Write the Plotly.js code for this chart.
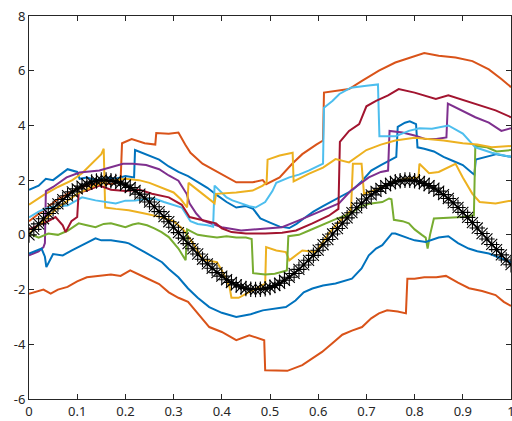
<!DOCTYPE html>
<html><head><meta charset="utf-8">
<script src="https://cdn.plot.ly/plotly-3.0.1.min.js"></script>
<style>html,body{margin:0;padding:0;background:#fff;overflow:hidden}#chart{width:512px;height:421px}</style>
</head><body><div id="chart"></div>
<script>
// tick labels
const xTickVals = [0,0.1,0.2,0.3,0.4,0.5,0.6,0.7,0.8,0.9,1];
const xTickText = ['0','0.1','0.2','0.3','0.4','0.5','0.6','0.7','0.8','0.9','1'];
const yTickVals = [-6,-4,-2,0,2,4,6,8];

// series (x, y pairs)
const blueUpX = [0,0.02,0.035,0.05,0.065,0.08,0.1,0.105,0.12,0.14,0.16,0.18,0.2,0.218,0.22,0.235,0.25,0.27,0.29,0.31,0.33,0.35,0.37,0.39,0.41,0.43,0.45,0.465,0.48,0.5,0.52,0.54,0.555,0.57,0.59,0.61,0.63,0.65,0.67,0.69,0.71,0.73,0.75,0.762,0.765,0.78,0.79,0.803,0.806,0.82,0.84,0.86,0.88,0.9,0.92,0.924,0.927,0.95,0.97,1.0];
const blueUpY = [1.65,1.8,2.05,2.0,2.2,2.4,2.3,2.05,2.1,2.0,2.1,2.05,2.15,2.1,3.1,3.0,2.9,2.75,2.5,2.3,2.15,1.95,1.72,1.45,1.2,1.0,1.05,0.95,0.6,0.45,0.3,0.25,0.4,0.6,0.85,1.05,1.25,1.45,1.62,1.95,2.35,2.55,2.72,2.85,3.95,4.1,4.15,4.05,3.2,3.15,3.05,2.85,2.7,2.55,2.25,2.2,2.75,2.85,2.95,2.85];

const orangeUpX = [0,0.03,0.06,0.09,0.12,0.15,0.17,0.19,0.193,0.213,0.24,0.262,0.264,0.29,0.31,0.324,0.335,0.36,0.395,0.43,0.464,0.485,0.492,0.52,0.546,0.567,0.596,0.61,0.612,0.636,0.664,0.69,0.726,0.76,0.788,0.82,0.85,0.885,0.92,0.954,0.98,1.0];
const orangeUpY = [0.5,0.9,1.3,1.6,1.8,1.9,1.85,1.95,3.35,3.5,3.35,3.3,3.72,3.7,3.74,3.3,3.0,2.6,2.25,1.92,1.92,2.0,1.85,2.1,2.6,2.95,3.3,3.45,5.2,5.27,5.33,5.62,6.0,6.3,6.45,6.65,6.55,6.48,6.35,6.05,5.7,5.4];

const yellow1X = [0,0.03,0.06,0.09,0.11,0.13,0.15,0.155,0.158,0.18,0.207,0.24,0.276,0.3,0.32,0.34,0.36,0.39,0.4,0.416,0.42,0.435,0.457,0.485,0.49,0.492,0.513,0.533,0.54,0.567,0.595,0.622,0.645,0.668,0.672,0.69,0.695,0.72,0.75,0.78,0.808,0.81,0.83,0.85,0.885,0.9,0.92,0.935,0.968,1.0];
const yellow1Y = [1.1,1.45,1.75,2.0,2.25,2.6,2.95,3.15,1.0,0.95,0.9,0.78,0.64,0.5,0.2,-0.3,-0.9,-1.0,-1.3,-1.9,-2.3,-2.3,-2.1,-1.85,-1.78,-0.45,-0.57,-0.63,-0.93,-0.57,-0.63,0.05,0.5,0.9,2.6,2.6,1.5,1.65,1.9,2.05,2.1,2.6,2.25,2.3,2.6,2.1,1.5,1.2,1.15,1.25];

const purpleX = [0,0.02,0.03,0.033,0.035,0.05,0.078,0.105,0.146,0.167,0.195,0.215,0.243,0.27,0.29,0.31,0.327,0.333,0.347,0.36,0.4,0.44,0.49,0.525,0.56,0.61,0.643,0.668,0.705,0.73,0.745,0.748,0.775,0.8,0.823,0.845,0.866,0.869,0.892,0.926,0.954,0.98,1.0];
const purpleY = [-0.75,-0.6,-0.45,-0.3,1.6,1.75,2.1,2.28,2.35,2.45,2.6,2.6,2.55,2.4,2.17,1.98,1.5,1.15,0.78,0.53,0.28,0.16,0.24,0.28,0.53,0.9,1.15,1.62,2.1,2.3,2.35,3.8,3.74,3.63,3.5,3.5,3.56,4.8,4.6,4.3,4.1,3.8,3.9];

const greenX = [0,0.02,0.04,0.06,0.08,0.103,0.12,0.138,0.155,0.17,0.185,0.2,0.215,0.227,0.245,0.26,0.275,0.29,0.31,0.325,0.328,0.35,0.37,0.39,0.41,0.43,0.45,0.462,0.465,0.49,0.51,0.535,0.538,0.56,0.58,0.6,0.62,0.64,0.664,0.69,0.71,0.733,0.747,0.752,0.757,0.775,0.788,0.8,0.815,0.823,0.827,0.832,0.84,0.87,0.9,0.923,0.926,0.95,0.97,1.0];
const greenY = [0.05,-0.1,0.05,0.0,0.15,0.42,0.35,0.28,0.4,0.42,0.35,0.28,0.38,0.42,0.35,0.24,0.1,-0.08,-0.5,-0.93,0.2,0.0,-0.05,-0.1,-0.05,-0.1,-0.1,-0.15,-1.4,-1.45,-1.42,-1.3,-0.05,0.0,0.15,0.3,0.45,0.6,0.75,1.05,1.15,1.2,1.33,1.3,0.55,0.5,0.42,0.2,0.0,-0.1,-0.5,0.0,0.6,0.62,0.65,0.72,3.25,3.2,3.05,3.1];

const lightBlueX = [0,0.02,0.04,0.06,0.08,0.11,0.138,0.16,0.18,0.2,0.22,0.24,0.26,0.28,0.3,0.317,0.335,0.35,0.37,0.382,0.385,0.395,0.41,0.422,0.44,0.457,0.47,0.49,0.505,0.513,0.54,0.56,0.58,0.61,0.612,0.63,0.644,0.668,0.7,0.72,0.724,0.727,0.76,0.788,0.81,0.836,0.87,0.9,0.926,0.96,1.0];
const lightBlueY = [0.64,0.85,1.0,1.05,1.07,1.37,1.26,1.2,1.15,1.25,1.26,1.3,1.33,1.2,1.1,1.0,0.5,0.4,0.35,0.3,1.8,1.62,1.37,1.26,1.15,1.05,1.0,1.2,1.6,1.9,2.1,2.2,2.35,2.6,4.65,4.9,5.15,5.38,5.45,5.5,5.5,3.6,3.6,3.8,3.9,3.88,4.0,3.7,3.2,3.0,2.85];

const darkRedX = [0,0.02,0.04,0.055,0.07,0.076,0.088,0.1,0.103,0.12,0.146,0.17,0.2,0.23,0.255,0.29,0.317,0.333,0.36,0.388,0.4,0.42,0.45,0.49,0.525,0.554,0.588,0.622,0.642,0.645,0.664,0.685,0.7,0.72,0.745,0.767,0.8,0.844,0.87,0.905,0.94,0.968,1.0];
const darkRedY = [0.2,0.35,0.5,0.65,0.35,0.1,0.5,0.65,1.55,1.62,1.8,1.65,1.6,1.65,1.5,1.37,1.1,0.65,0.53,0.42,0.24,0.1,0.05,0.05,0.08,0.16,0.42,0.7,0.95,3.4,3.8,4.05,4.7,4.9,5.1,5.33,5.2,4.97,5.1,4.9,4.7,4.55,4.3];

const blueLowX = [0,0.026,0.033,0.036,0.05,0.07,0.089,0.11,0.138,0.15,0.17,0.2,0.207,0.24,0.26,0.276,0.29,0.31,0.33,0.35,0.374,0.4,0.43,0.46,0.485,0.51,0.533,0.553,0.57,0.588,0.61,0.636,0.67,0.69,0.705,0.72,0.733,0.753,0.76,0.788,0.8,0.823,0.85,0.87,0.89,0.912,0.93,0.954,0.98,1.0];
const blueLowY = [-0.68,-0.5,-0.8,-1.18,-0.7,-0.75,-0.57,-0.38,-0.13,-0.2,-0.2,-0.28,-0.31,-0.63,-0.85,-1.0,-1.25,-1.55,-1.96,-2.3,-2.64,-2.85,-3.0,-2.9,-2.76,-2.7,-2.64,-2.4,-2.1,-1.96,-1.85,-1.78,-1.6,-1.23,-0.75,-0.5,-0.38,0.05,0.05,-0.13,-0.2,-0.26,-0.1,-0.05,-0.3,-0.5,-0.6,-0.68,-0.85,-1.0];

const orangeLowX = [0,0.02,0.03,0.045,0.06,0.08,0.1,0.12,0.15,0.17,0.19,0.21,0.24,0.27,0.29,0.31,0.33,0.36,0.374,0.4,0.43,0.457,0.488,0.49,0.51,0.536,0.567,0.59,0.608,0.63,0.65,0.67,0.691,0.71,0.726,0.743,0.765,0.782,0.785,0.8,0.82,0.845,0.865,0.89,0.913,0.94,0.968,0.985,1.0];
const orangeLowY = [-2.15,-2.05,-2.0,-2.15,-2.0,-1.9,-1.7,-1.55,-1.5,-1.45,-1.5,-1.3,-1.55,-1.8,-2.1,-2.3,-2.45,-3.1,-3.37,-3.55,-3.85,-3.67,-3.85,-4.95,-4.95,-4.97,-4.76,-4.5,-4.28,-3.95,-3.65,-3.5,-3.37,-3.05,-2.87,-2.76,-2.8,-2.87,-1.6,-1.6,-1.55,-1.55,-1.5,-1.75,-1.95,-2.05,-2.2,-2.45,-2.6];

const yellow2X = [0,0.03,0.06,0.1,0.13,0.16,0.2,0.228,0.25,0.276,0.3,0.315,0.328,0.331,0.345,0.36,0.385,0.388,0.41,0.43,0.464,0.485,0.493,0.495,0.52,0.547,0.549,0.58,0.61,0.636,0.664,0.7,0.73,0.76,0.8,0.83,0.86,0.9,0.93,0.96,1.0];
const yellow2Y = [0.05,0.5,1.0,1.5,1.75,1.95,2.05,2.0,1.9,1.73,1.55,1.3,1.0,1.9,1.7,1.5,1.15,1.5,1.52,1.55,1.62,1.8,1.92,2.75,2.9,3.0,1.95,2.23,2.46,2.77,2.65,3.1,3.3,3.45,3.55,3.5,3.45,3.35,3.3,3.2,3.25];

// black reference curve, sampled every 0.01
const sineX = [0,0.01,0.02,0.03,0.04,0.05,0.06,0.07,0.08,0.09,0.1,0.11,0.12,0.13,0.14,0.15,0.16,0.17,0.18,0.19,0.2,0.21,0.22,0.23,0.24,0.25,0.26,0.27,0.28,0.29,0.3,0.31,0.32,0.33,0.34,0.35,0.36,0.37,0.38,0.39,0.4,0.41,0.42,0.43,0.44,0.45,0.46,0.47,0.48,0.49,0.5,0.51,0.52,0.53,0.54,0.55,0.56,0.57,0.58,0.59,0.6,0.61,0.62,0.63,0.64,0.65,0.66,0.67,0.68,0.69,0.7,0.71,0.72,0.73,0.74,0.75,0.76,0.77,0.78,0.79,0.8,0.81,0.82,0.83,0.84,0.85,0.86,0.87,0.88,0.89,0.9,0.91,0.92,0.93,0.94,0.95,0.96,0.97,0.98,0.99,1.0];
const sineY = [0,0.20,0.40,0.59,0.78,0.96,1.13,1.29,1.43,1.57,1.68,1.78,1.86,1.93,1.97,2.00,2.00,1.98,1.95,1.89,1.82,1.73,1.62,1.49,1.35,1.20,1.03,0.85,0.67,0.48,0.28,0.08,-0.12,-0.32,-0.51,-0.70,-0.89,-1.06,-1.22,-1.38,-1.51,-1.64,-1.74,-1.83,-1.90,-1.96,-1.99,-2.00,-1.99,-1.97,-1.92,-1.85,-1.77,-1.66,-1.55,-1.41,-1.26,-1.10,-0.93,-0.75,-0.56,-0.36,-0.17,0.03,0.23,0.43,0.62,0.81,0.99,1.16,1.31,1.46,1.59,1.70,1.80,1.88,1.94,1.98,2.00,2.00,1.98,1.94,1.88,1.80,1.71,1.60,1.47,1.33,1.17,1.00,0.82,0.64,0.45,0.25,0.05,-0.15,-0.35,-0.54,-0.73,-0.92,-1.09];

const C = {blue:'#0072BD', orange:'#D95319', yellow:'#EDB120', purple:'#7E2F8E', green:'#77AC30', lightblue:'#4DBEEE', darkred:'#A2142F'};

function line(x, y, color) {
  return {x: x, y: y, type: 'scatter', mode: 'lines', line: {color: color, width: 2}, hoverinfo: 'skip', showlegend: false};
}

const traces = [
  line(blueUpX, blueUpY, C.blue),
  line(orangeUpX, orangeUpY, C.orange),
  line(yellow1X, yellow1Y, C.yellow),
  line(purpleX, purpleY, C.purple),
  line(greenX, greenY, C.green),
  line(lightBlueX, lightBlueY, C.lightblue),
  line(darkRedX, darkRedY, C.darkred),
  line(blueLowX, blueLowY, C.blue),
  line(orangeLowX, orangeLowY, C.orange),
  line(yellow2X, yellow2Y, C.yellow),
  {x: sineX, y: sineY, type: 'scatter', mode: 'lines+markers', showlegend: false, hoverinfo: 'skip',
   line: {color: '#000', width: 1.5},
   marker: {symbol: 'asterisk-open', size: 13, color: '#000', line: {color: '#000', width: 1.1}}}
];

const axisCommon = {
  showline: true, linecolor: '#262626', linewidth: 1, mirror: 'ticks',
  ticks: 'inside', ticklen: 5, tickwidth: 1, tickcolor: '#262626',
  showgrid: false, zeroline: false,
  tickfont: {family: 'Noto Sans, Open Sans, sans-serif', size: 13, color: '#262626'}
};

const layout = {
  width: 512, height: 421,
  margin: {l: 29, r: 1, t: 16, b: 22, pad: 0},
  paper_bgcolor: '#fff', plot_bgcolor: '#fff',
  xaxis: Object.assign({}, axisCommon, {range: [0, 1], tickmode: 'array', tickvals: xTickVals, ticktext: xTickText, ticklabeloverflow: 'allow'}),
  yaxis: Object.assign({}, axisCommon, {range: [-6, 8], tickmode: 'array', tickvals: yTickVals, ticktext: yTickVals.map(String)})
};

Plotly.newPlot('chart', traces, layout, {displayModeBar: false, staticPlot: true});
</script>
</body></html>
